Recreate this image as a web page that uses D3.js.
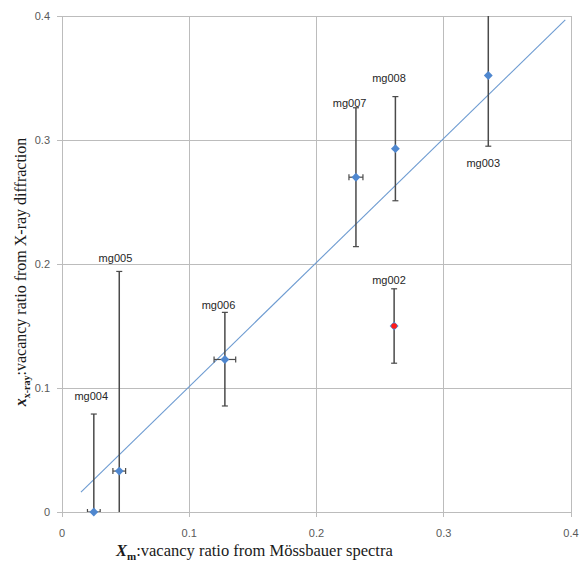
<!DOCTYPE html>
<html>
<head>
<meta charset="utf-8">
<script src="https://cdn.jsdelivr.net/npm/d3@7"></script>
<style>
  body { margin: 0; background: #fff; }
  svg { display: block; }
</style>
</head>
<body>
<svg id="chart" width="579" height="561"></svg>
<script>
// samples
var names  = ["mg004", "mg005", "mg006", "mg002", "mg007", "mg008", "mg003"]
var xm     = [0.025, 0.045, 0.128, 0.261, 0.231, 0.262, 0.335]
var xmErr  = [0.005, 0.005, 0.0085, 0, 0.0055, 0, 0]
var xray   = [0.0, 0.033, 0.123, 0.150, 0.270, 0.293, 0.352]
var yLow   = [-0.02, -0.02, 0.0855, 0.120, 0.214, 0.251, 0.295]
var yHigh  = [0.079, 0.194, 0.161, 0.180, 0.326, 0.335, 0.42]
var outlier = ["mg002"]
// label positions in data units (centre x, baseline y)
var labelX = [0.023, 0.042, 0.123, 0.257, 0.226, 0.257, 0.331]
var labelY = [0.090, 0.202, 0.164, 0.184, 0.327, 0.347, 0.278]
// trend line endpoints
var trendX = [0.0149, 0.3955]
var trendY = [0.0161, 0.3968]
var xTicks = [0, 0.1, 0.2, 0.3, 0.4]
var yTicks = [0, 0.1, 0.2, 0.3, 0.4]

var svg = d3.select("#chart")
var m = {left: 62, top: 16, right: 8, bottom: 49}
var W = 579 - m.left - m.right
var H = 561 - m.top - m.bottom

var x = d3.scaleLinear().domain([0, 0.4]).range([0, W])
var y = d3.scaleLinear().domain([0, 0.4]).range([H, 0])

var g = svg.append("g").attr("transform", "translate(" + m.left + "," + m.top + ")")

g.append("clipPath").attr("id", "clip")
  .append("rect").attr("x", 0).attr("y", 0).attr("width", W).attr("height", H)

// grid
var gridColor = "#bcbcbc"
g.selectAll(".vgrid").data(xTicks).enter().append("line")
  .attr("x1", d => x(d)).attr("x2", d => x(d))
  .attr("y1", 0).attr("y2", H + 5)
  .style("stroke", gridColor).style("stroke-width", 1).attr("shape-rendering", "crispEdges")
g.selectAll(".hgrid").data(yTicks).enter().append("line")
  .attr("x1", -5).attr("x2", W)
  .attr("y1", d => y(d)).attr("y2", d => y(d))
  .style("stroke", gridColor).style("stroke-width", 1).attr("shape-rendering", "crispEdges")

// tick labels
g.selectAll(".xt").data(xTicks).enter().append("text")
  .attr("x", d => x(d)).attr("y", H + 25)
  .attr("text-anchor", "middle")
  .style("font-family", "'Liberation Sans', Arial, sans-serif").style("font-size", "11px").style("fill", "#595959")
  .text(d => d)
g.selectAll(".yt").data(yTicks).enter().append("text")
  .attr("x", -12).attr("y", d => y(d) + 4)
  .attr("text-anchor", "end")
  .style("font-family", "'Liberation Sans', Arial, sans-serif").style("font-size", "11px").style("fill", "#595959")
  .text(d => d)

var plot = g.append("g").attr("clip-path", "url(#clip)")

// trend line
plot.append("line")
  .attr("x1", x(trendX[0])).attr("y1", y(trendY[0]))
  .attr("x2", x(trendX[1])).attr("y2", y(trendY[1]))
  .style("stroke", "#6d9bd1").style("stroke-width", 1.1)

// error bars
var errColor = "#4a4a4a"
var cap = 3
names.forEach(function(n, i){
    var cx = x(xm[i])
    plot.append("line").attr("x1", cx).attr("x2", cx)
      .attr("y1", y(yLow[i])).attr("y2", y(yHigh[i]))
      .style("stroke", errColor).style("stroke-width", 1.5)
    ;[yLow[i], yHigh[i]].forEach(function(v){
        plot.append("line").attr("x1", cx - cap).attr("x2", cx + cap)
          .attr("y1", y(v)).attr("y2", y(v))
          .style("stroke", errColor).style("stroke-width", 1.2)
    })
    if(xmErr[i] > 0){
        var cy = y(xray[i])
        var a = x(xm[i] - xmErr[i]), b = x(xm[i] + xmErr[i])
        plot.append("line").attr("x1", a).attr("x2", b).attr("y1", cy).attr("y2", cy)
          .style("stroke", errColor).style("stroke-width", 1.2)
        ;[a, b].forEach(function(e){
            plot.append("line").attr("x1", e).attr("x2", e).attr("y1", cy - cap).attr("y2", cy + cap)
              .style("stroke", errColor).style("stroke-width", 1.2)
        })
    }
})

// markers
var diamond = d3.symbol().type(d3.symbolDiamond2).size(50)
g.selectAll(".pt").data(names).enter().append("path")
  .attr("d", diamond)
  .attr("transform", (d, i) => "translate(" + x(xm[i]) + "," + y(xray[i]) + ")")
  .style("fill", "#4f87cf")
g.selectAll(".red").data(names.filter(n => outlier.includes(n))).enter().append("circle")
  .attr("cx", d => x(xm[names.indexOf(d)])).attr("cy", d => y(xray[names.indexOf(d)]))
  .attr("r", 2.8).style("fill", "#ff1a1a")

// sample labels
g.selectAll(".lbl").data(names).enter().append("text")
  .attr("x", (d, i) => x(labelX[i])).attr("y", (d, i) => y(labelY[i]))
  .attr("text-anchor", "middle")
  .style("font-family", "'Liberation Sans', Arial, sans-serif").style("font-size", "11px").style("fill", "#262626")
  .text(d => d)

// axis titles
var serif = "'Liberation Serif', 'Times New Roman', serif"
var xt = svg.append("text").attr("x", 116).attr("y", 556)
  .style("font-family", serif).style("font-size", "16.5px").style("fill", "#1a1a1a")
xt.append("tspan").style("font-weight", "bold").style("font-style", "italic").text("X")
xt.append("tspan").attr("dy", 4).style("font-weight", "bold").style("font-size", "11px").text("m")
xt.append("tspan").attr("dy", -4).text(":vacancy ratio from Mössbauer spectra")

var yt = svg.append("text").attr("transform", "translate(26,272) rotate(-90)")
  .attr("text-anchor", "middle")
  .style("font-family", serif).style("font-size", "16px").style("fill", "#1a1a1a")
yt.append("tspan").style("font-weight", "bold").style("font-style", "italic").text("x")
yt.append("tspan").attr("dy", 4).style("font-weight", "bold").style("font-size", "10px").text("x-ray")
yt.append("tspan").attr("dy", -4).text(":vacancy ratio from X-ray diffraction")
</script>
</body>
</html>
